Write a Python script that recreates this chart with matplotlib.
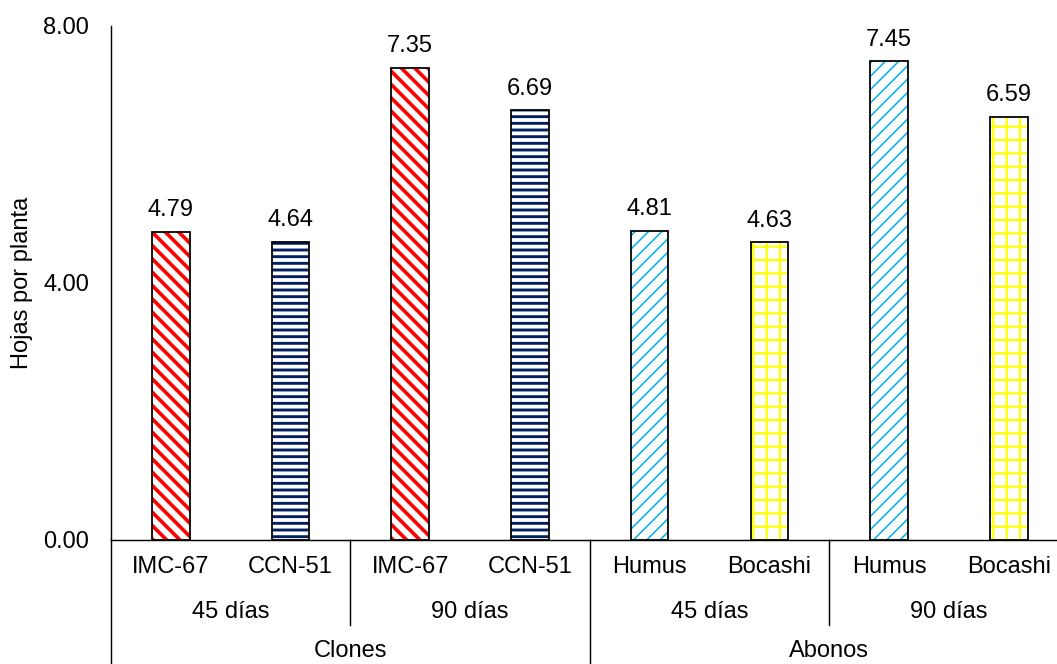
import numpy as np
import matplotlib
matplotlib.use('Agg')
import matplotlib.pyplot as plt

# Data
labels = ['IMC-67', 'CCN-51', 'IMC-67', 'CCN-51', 'Humus', 'Bocashi', 'Humus', 'Bocashi']
values = [4.79, 4.64, 7.35, 6.69, 4.81, 4.63, 7.45, 6.59]
periods = ['45 días', '90 días', '45 días', '90 días']
groups = ['Clones', 'Abonos']

# Styles per bar
hatch_colors = ['#FF0000', '#002060', '#FF0000', '#002060',
                '#00B0F0', '#FFFF00', '#00B0F0', '#FFFF00']
hatches = ['\\\\', '--', '\\\\', '--', '//', '-|', '//', '-|']
hatch_lws = [3.3, 2.6, 3.3, 2.6, 1.4, 2.0, 1.4, 2.0]

DPI = 80
W, H = 1057, 664
FS = 21.3

plt.rcParams['font.family'] = ['Liberation Sans', 'DejaVu Sans']
plt.rcParams['font.size'] = FS

fig = plt.figure(figsize=(W / DPI, H / DPI), dpi=DPI)
# axes box in pixels: left 111, right 1068.6 (cropped), zero line 539.5, top 26
ax = fig.add_axes([111 / W, (H - 539.5) / H, (1068.6 - 111) / W, (539.5 - 26) / H])

x = np.arange(len(values))
bw = 0.314
for i in range(len(values)):
    with plt.rc_context({'hatch.linewidth': hatch_lws[i]}):
        b = ax.bar(x[i], values[i], width=bw, color='white', edgecolor=hatch_colors[i],
                   hatch=hatches[i], linewidth=0, zorder=2)
    for p in b:
        if hasattr(p, 'set_hatch_linewidth'):
            p.set_hatch_linewidth(hatch_lws[i])
    ax.bar(x[i], values[i], width=bw, fill=False, edgecolor='black', linewidth=1.6, zorder=3)
    ax.annotate(f'{values[i]:.2f}', (x[i], values[i]), xytext=(0, 9.5),
                textcoords='offset points', ha='center', va='bottom', fontsize=FS)

ax.set_xlim(-0.5, len(values) - 0.5)
ax.set_ylim(0, 8)
ax.set_yticks([0, 4, 8])
ax.set_yticklabels([f'{v:.2f}' for v in [0, 4, 8]])
ax.tick_params(axis='y', length=0, pad=19.5, labelsize=FS)
ax.set_xticks([])
for s in ['top', 'right']:
    ax.spines[s].set_visible(False)
ax.spines['left'].set_linewidth(1.3)
ax.spines['bottom'].set_linewidth(1.3)

# multi-level category axis
tr = ax.get_xaxis_transform()
ah = 539.5 - 26
y_row1 = -(566.7 - 539.5) / ah
y_row2 = -(611.7 - 539.5) / ah
y_row3 = -(651.0 - 539.5) / ah
y_short = -(625.0 - 539.5) / ah
y_long = -(664.0 - 539.5) / ah - 0.01

for i, lab in enumerate(labels):
    ax.text(x[i], y_row1, lab, transform=tr, ha='center', va='center', fontsize=FS)
for j, per in enumerate(periods):
    ax.text(2 * j + 0.5, y_row2, per, transform=tr, ha='center', va='center', fontsize=FS)
for k, grp in enumerate(groups):
    ax.text(4 * k + 1.5, y_row3, grp, transform=tr, ha='center', va='center', fontsize=FS)

for sx in [-0.5, 3.5, 7.5]:
    ax.plot([sx, sx], [0, y_long], transform=tr, color='black', lw=1.3, clip_on=False)
for sx in [1.5, 5.5]:
    ax.plot([sx, sx], [0, y_short], transform=tr, color='black', lw=1.3, clip_on=False)

fig.text(22 / W, (H - 283) / H, 'Hojas por planta', rotation=90,
         ha='center', va='center', fontsize=FS)

fig.savefig('out.png', dpi=DPI)
